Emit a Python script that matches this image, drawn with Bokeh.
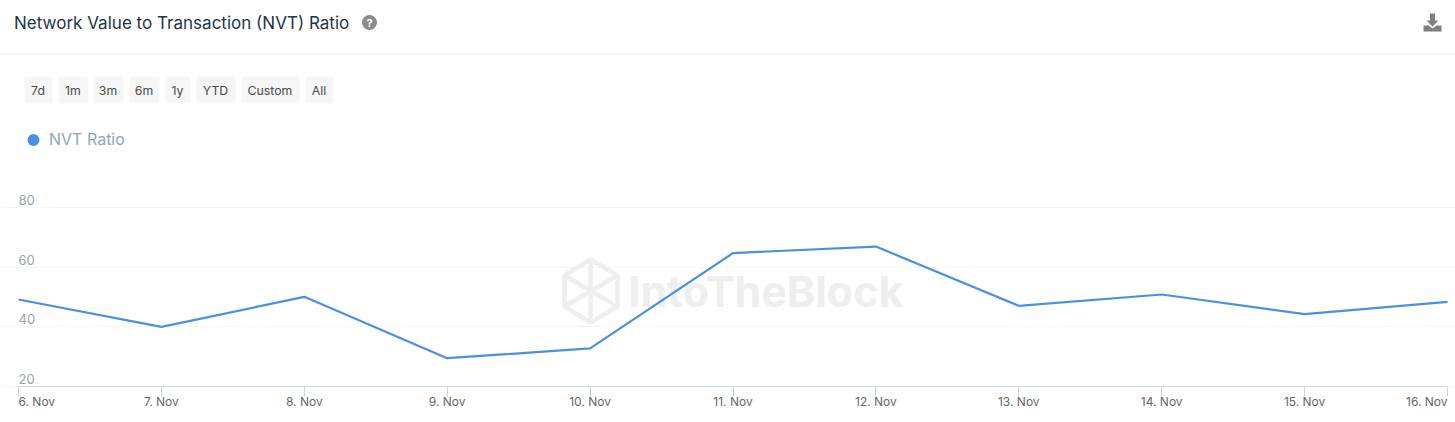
from datetime import datetime
from bokeh.plotting import figure
from bokeh.layouts import column
from bokeh.models import Range1d, FixedTicker
from bokeh.core.properties import value
from bokeh.embed import file_html
from bokeh.resources import INLINE

TITLE = "Network Value to Transaction (NVT) Ratio"
SERIES = "NVT Ratio"
BUTTONS = ["7d", "1m", "3m", "6m", "1y", "YTD", "Custom", "All"]
DAYS = [6, 7, 8, 9, 10, 11, 12, 13, 14, 15, 16]
NVT = [49.2, 40.0, 50.1, 29.5, 32.8, 64.8, 67.0, 47.1, 50.9, 44.3, 48.4]
Y_TICKS = [20, 40, 60, 80]
DAY_LABELS = [f"{d}. Nov" for d in DAYS]

FONT = "Inter"
W = 1455
HEAD_H = 150
CHART_H = 272
PLOT_L, PLOT_R = 18, 1447

dates = [datetime(2023, 11, d) for d in DAYS]
ms = [d.timestamp() * 1000 for d in dates]
ms_per_px = (ms[-1] - ms[0]) / (PLOT_R - PLOT_L)

# ---------- header strip, in page pixels ----------
h = figure(width=W, height=HEAD_H, output_backend="svg", toolbar_location=None,
           x_range=Range1d(0, W), y_range=Range1d(HEAD_H, 0),
           min_border=0, outline_line_color=None)
h.axis.visible = False
h.grid.visible = False

h.text(x=[13.5], y=[22], text=[TITLE], text_font=value(FONT), text_font_size="17.05px",
       text_color="#22344a", text_baseline="middle")
h.segment(x0=[0], x1=[W], y0=[53.5], y1=[53.5], line_color="#e9ecef", line_width=1)

h.circle(x=[369], y=[22], radius=7.5, fill_color="#8a8a8a", line_color=None)
h.text(x=[369], y=[22.5], text=["?"], text_font=value(FONT), text_font_style="bold",
       text_font_size="11px", text_color="#ffffff", text_align="center", text_baseline="middle")

h.patch(x=[1429.5, 1434.5, 1434.5, 1438, 1432, 1426, 1429.5],
        y=[13, 13, 20, 20, 26, 20, 20], fill_color="#808080", line_color=None)
h.patch(x=[1423, 1428, 1432, 1436, 1441, 1441, 1423],
        y=[25, 25, 28, 25, 25, 31, 31], fill_color="#808080", line_color=None)

lefts = [24, 58, 93, 129, 165, 196, 241, 305]
rights = [52, 88, 123, 159, 190, 235, 299, 333]
h.quad(left=lefts, right=rights, top=[76] * 8, bottom=[103] * 8,
       fill_color="#f6f6f6", line_color=None, border_radius=2)
h.text(x=[(a + b) / 2 - 0.5 for a, b in zip(lefts, rights)], y=[90] * 8, text=BUTTONS,
       text_font=value(FONT), text_font_size="12.3px", text_color="#4a4a4a",
       text_align="center", text_baseline="middle")

h.circle(x=[33], y=[139.5], radius=6, fill_color="#4a90e2", line_color=None)
h.text(x=[48.5], y=[138], text=[SERIES], text_font=value(FONT), text_font_size="16px",
       text_color="#94a3b2", text_baseline="middle")

# ---------- chart: frame fills the figure, axis is pinned at y = 20 ----------
p = figure(width=W, height=CHART_H, output_backend="svg", toolbar_location=None,
           x_axis_type="datetime",
           x_range=Range1d(ms[0] - PLOT_L * ms_per_px, ms[-1] + (W - PLOT_R) * ms_per_px),
           y_range=Range1d(7.91, 99.25), min_border=0, outline_line_color=None)
p.extra_x_ranges["px"] = Range1d(0, W)
p.extra_y_ranges["px"] = Range1d(422, 150)

wm = "#eeeeee"
hx = [590, 617, 617, 590, 564, 564, 590]
hy = [259, 275, 306, 322, 306, 275, 259]
p.line(hx, hy, x_range_name="px", y_range_name="px", line_color=wm, line_width=4.5)
p.multi_line(xs=[[564, 617], [564, 617], [590, 590], [590, 590]],
             ys=[[275, 306], [306, 275], [259, 290], [290, 322]],
             x_range_name="px", y_range_name="px", line_color=wm, line_width=4.5)
p.text(x=[628], y=[290], text=["IntoTheBlock"], x_range_name="px", y_range_name="px",
       text_font=value(FONT), text_font_style="bold", text_font_size="43px",
       text_color=wm, text_baseline="middle")

p.line(dates, NVT, line_color="#4a90e2", line_width=2.2)

xa = p.xaxis[0]
xa.fixed_location = 20
xa.bounds = (ms[0], ms[-1])
xa.ticker = FixedTicker(ticks=ms)
xa.major_label_overrides = {m: (l if 0 < i < len(ms) - 1 else "")
                            for i, (m, l) in enumerate(zip(ms, DAY_LABELS))}
xa.axis_line_color = "#ccd6eb"
xa.major_tick_line_color = "#ccd6eb"
xa.major_tick_in = 0
xa.major_tick_out = 10
xa.minor_tick_line_color = None
xa.major_label_standoff = -2
xa.major_label_text_font = FONT
xa.major_label_text_font_size = "12px"
xa.major_label_text_color = "#666666"

for i, align in ((0, "left"), (-1, "right")):
    p.text(x=[ms[i]], y=[20], text=[DAY_LABELS[i]], y_offset=15, text_align=align,
           text_baseline="middle", text_font=value(FONT), text_font_size="12px",
           text_color="#666666")

p.yaxis.visible = False
p.text(x=[ms[0]] * len(Y_TICKS), y=Y_TICKS, text=[str(t) for t in Y_TICKS], y_offset=-7.5,
       text_font=value(FONT), text_font_size="13px", text_color="#99a3ad",
       text_baseline="middle")

p.xgrid.visible = False
p.ygrid[0].ticker = FixedTicker(ticks=Y_TICKS)
p.ygrid[0].bounds = (ms[0], ms[-1])
p.ygrid.grid_line_color = "#f5f5f5"

page = column(h, p, spacing=0)
open("out.html", "w").write(file_html(page, INLINE))
